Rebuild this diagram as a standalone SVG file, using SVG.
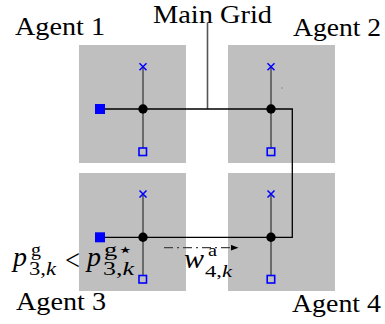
<svg xmlns="http://www.w3.org/2000/svg" width="385" height="324" viewBox="0 0 385 324">
<style>
.box{fill:#bfbfbf}
.stem{stroke:#555;stroke-width:1.6;fill:none}
.bus{stroke:#000;stroke-width:1.3;fill:none}
.cross{stroke:#00f;stroke-width:1.5;fill:none}
.osq{stroke:#00f;stroke-width:1.6;fill:none}
.fsq{fill:#00f}
.node{fill:#000}
.lbl{font-family:"Liberation Serif","DejaVu Serif",serif;font-size:26px;fill:#000}
.m{font-family:"Liberation Serif","DejaVu Serif",serif;fill:#000}
.it{font-style:italic}
</style>
<defs>
<marker id="ah" markerWidth="8" markerHeight="6" refX="8" refY="3" orient="auto" markerUnits="userSpaceOnUse">
<path d="M0,0 L8,3 L0,6 Z" fill="#000"/>
</marker>
</defs>
<rect width="385" height="324" fill="#fff"/>

<g id="agent1">
<rect class="box" x="79" y="45" width="107" height="118"/>
<line class="stem" x1="143" y1="67" x2="143" y2="148"/>
<path class="cross" d="M139.5,63.3 L146.5,70.3 M146.5,63.3 L139.5,70.3"/>
<rect class="osq" x="139" y="148" width="7.5" height="7.5"/>
<text class="lbl" x="15" y="35" textLength="90" lengthAdjust="spacingAndGlyphs">Agent 1</text>
</g>

<g id="agent2">
<rect class="box" x="228" y="45" width="107" height="118"/>
<line class="stem" x1="271" y1="67" x2="271" y2="148"/>
<path class="cross" d="M267.5,63.3 L274.5,70.3 M274.5,63.3 L267.5,70.3"/>
<rect class="osq" x="267.2" y="148" width="7.5" height="7.5"/>
<circle cx="282" cy="88" r="0.7" fill="#777"/>
<text class="lbl" x="293" y="36" textLength="88" lengthAdjust="spacingAndGlyphs">Agent 2</text>
</g>

<g id="agent3">
<rect class="box" x="79" y="173" width="107" height="118"/>
<line class="stem" x1="143" y1="195" x2="143" y2="276"/>
<path class="cross" d="M139.5,190.5 L146.5,197.5 M146.5,190.5 L139.5,197.5"/>
<rect class="osq" x="139" y="275.5" width="7.5" height="7.5"/>
<text class="lbl" x="16" y="310" textLength="90" lengthAdjust="spacingAndGlyphs">Agent 3</text>
</g>

<g id="agent4">
<rect class="box" x="228" y="173" width="107" height="118"/>
<line class="stem" x1="271" y1="195" x2="271" y2="276"/>
<path class="cross" d="M267.5,190.5 L274.5,197.5 M274.5,190.5 L267.5,197.5"/>
<rect class="osq" x="267.2" y="275.5" width="7.5" height="7.5"/>
<text class="lbl" x="292" y="312" textLength="89" lengthAdjust="spacingAndGlyphs">Agent 4</text>
</g>

<g id="main-grid">
<line class="stem" x1="207.5" y1="23" x2="207.5" y2="109"/>
<text class="lbl" x="153" y="23" textLength="119" lengthAdjust="spacingAndGlyphs">Main Grid</text>
</g>

<g id="connectors">
<path class="bus" d="M100,109 H292.3 V237.3 H100"/>
<rect class="fsq" x="95" y="104" width="10" height="10"/>
<rect class="fsq" x="95" y="232.3" width="10" height="10"/>
<circle class="node" cx="143" cy="109" r="4.7"/>
<circle class="node" cx="271" cy="109" r="4.7"/>
<circle class="node" cx="143" cy="237.3" r="4.7"/>
<circle class="node" cx="271" cy="237.3" r="4.7"/>
<line x1="164" y1="247.7" x2="238.5" y2="247.7" stroke="#444" stroke-width="1.3" stroke-dasharray="9,4,2,4" marker-end="url(#ah)"/>
</g>

<g id="labels">
<text class="m it" x="13" y="266" font-size="28">p</text>
<text class="m" x="31" y="256" font-size="19" textLength="10" lengthAdjust="spacingAndGlyphs">g</text>
<text class="m" x="29" y="275" font-size="18" textLength="27" lengthAdjust="spacingAndGlyphs">3,<tspan class="it">k</tspan></text>
<text class="m" x="65" y="270" font-size="30" textLength="15" lengthAdjust="spacingAndGlyphs">&lt;</text>
<text class="m it" x="87" y="266" font-size="28">p</text>
<text class="m" x="104" y="256" font-size="19" textLength="30" lengthAdjust="spacingAndGlyphs">g⋆</text>
<text class="m" x="103" y="275" font-size="18" textLength="31" lengthAdjust="spacingAndGlyphs">3,<tspan class="it">k</tspan></text>
<text class="m it" x="184" y="268" font-size="28" textLength="20" lengthAdjust="spacingAndGlyphs">w</text>
<text class="m" x="208" y="256" font-size="17" textLength="9" lengthAdjust="spacingAndGlyphs">a</text>
<text class="m" x="205" y="277" font-size="17" textLength="27" lengthAdjust="spacingAndGlyphs">4,<tspan class="it">k</tspan></text>
</g>
</svg>
